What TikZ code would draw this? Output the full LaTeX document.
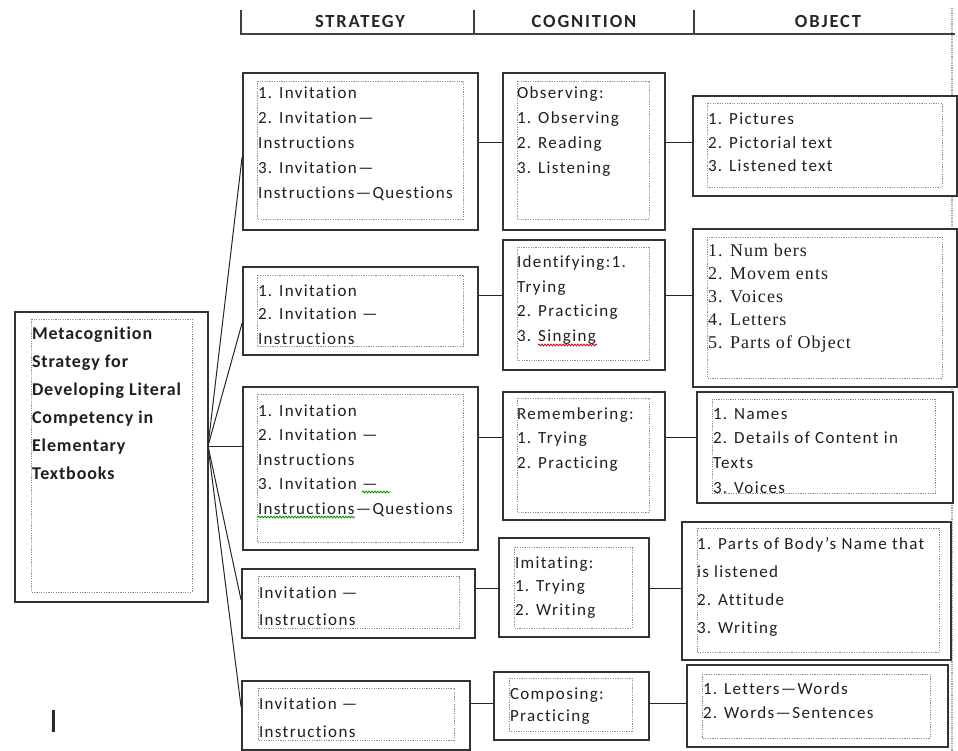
\documentclass[tikz,border=0pt]{standalone}
\usepackage{fontspec}
\usetikzlibrary{decorations.pathmorphing}
\newfontfamily\bodyfont[LetterSpace=8,Ligatures=NoCommon]{Carlito}
\newfontfamily\rootfont[LetterSpace=5,Ligatures=NoCommon]{Carlito}
\newfontfamily\headfont[LetterSpace=10,Ligatures=NoCommon]{Carlito}
\newfontfamily\timesfont[LetterSpace=6,Ligatures=NoCommon]{Liberation Serif}
\newfontfamily\barfont{Liberation Sans}
\tikzset{
  outerbox/.style={draw=black!80, line width=1.8pt, fill=white, inner sep=0pt, rectangle},
  innerbox/.style={draw=black!45, line width=0.9pt, dash pattern=on 1.2pt off 1.2pt},
  link/.style={draw=black!85, line width=1pt},
  hline/.style={draw=black!75, line width=1.6pt},
  vdash/.style={draw=black!35, line width=1.6pt, dash pattern=on 1.2pt off 1pt},
  txt/.style={inner sep=0pt, outer sep=0pt, text=black!88, anchor=base west},
  head/.style={inner sep=0pt, text=black!85, font={\headfont\bfseries\fontsize{18.5}{20}\selectfont}},
  spellred/.style={draw=red!85!black, line width=0.8pt, decorate, decoration={snake, segment length=3pt, amplitude=0.9pt}},
  spellgreen/.style={draw=green!55!black, line width=0.8pt, decorate, decoration={snake, segment length=3pt, amplitude=0.9pt}}
}
\newcommand\obox[5]{\node[outerbox, minimum width={(#4)-(#2)}, minimum height={(#5)-(#3)}] (#1) at ({((#2)+(#4))/2},{((#3)+(#5))/2}) {};}
\newcommand\ibox[4]{\draw[innerbox] (#1,#2) rectangle (#3,#4);}
\newcommand\tbox[7]{\node[txt] (#1) at (#2,#3) {#6\fontsize{#4}{#5}\selectfont\begin{tabular}[t]{@{}l@{}}#7\end{tabular}};}
\begin{document}
\begin{tikzpicture}[x=1pt,y=-1pt]
\useasboundingbox (0,0) rectangle (958,751);
% right dotted rule
\draw[vdash] (952,8) -- (952,751);
% header
\draw[hline] (241,10) -- (241,34) -- (955,34);
\draw[hline] (474,10) -- (474,34);
\draw[hline] (694,10) -- (694,34);
\node[head] (hS) at (360,22) {STRATEGY};
\node[head] (hC) at (584,22) {COGNITION};
\node[head] (hO) at (828,22) {OBJECT};
% root
\obox{R}{15}{312}{208}{602}
\ibox{31}{319}{192}{592}
\tbox{tR}{32}{339}{18}{28}{\rootfont\bfseries}{Metacognition\\Strategy for\\Developing Literal\\Competency in\\Elementary\\Textbooks}
% row 1
\obox{S1}{243}{73}{478}{230}
\ibox{257}{81}{463}{219}
\tbox{tS1}{258}{99}{17}{24.8}{\bodyfont}{1. Invitation\\2. Invitation—\\Instructions\\3. Invitation—\\Instructions—Questions}
\obox{C1}{503}{73}{665}{230}
\ibox{517}{81}{649}{219}
\tbox{tC1}{517}{99}{17}{24.7}{\bodyfont}{Observing:\\1. Observing\\2. Reading\\3. Listening}
\obox{O1}{693}{96}{957}{196}
\ibox{707}{103}{942}{187}
\tbox{tO1}{708}{125}{17}{23.5}{\bodyfont}{1. Pictures\\2. Pictorial text\\3. Listened text}
% row 2
\obox{S2}{243}{267}{478}{355}
\ibox{257}{275}{463}{346}
\tbox{tS2}{258}{296}{17}{24}{\bodyfont}{1. Invitation\\2. Invitation —\\Instructions}
\obox{C2}{503}{240}{665}{370}
\ibox{517}{247}{649}{360}
\tbox{tC2}{517}{268}{17}{24.5}{\bodyfont}{Identifying:1.\\Trying\\2. Practicing\\3. Singing}
\obox{O2}{693}{229}{957}{387}
\ibox{707}{237}{942}{378}
\tbox{tO2}{708}{257}{18}{23}{\timesfont}{1. Num bers\\2. Movem ents\\3. Voices\\4. Letters\\5. Parts of Object}
% row 3
\obox{S3}{243}{387}{478}{550}
\ibox{257}{394}{463}{542}
\tbox{tS3}{258}{416}{17}{24.5}{\bodyfont}{1. Invitation\\2. Invitation —\\Instructions\\3. Invitation —\\Instructions—Questions}
\obox{C3}{503}{392}{665}{520}
\ibox{517}{398}{649}{512}
\tbox{tC3}{517}{419}{17}{24.5}{\bodyfont}{Remembering:\\1. Trying\\2. Practicing}
\obox{O3}{697}{392}{953}{503}
\ibox{712}{399}{935}{493}
\tbox{tO3}{713}{419}{17}{24.7}{\bodyfont}{1. Names\\2. Details of Content in\\Texts\\3. Voices}
% row 4
\obox{S4}{242}{569}{475}{638}
\ibox{258}{576}{459}{628}
\tbox{tS4}{259}{598}{17}{27}{\bodyfont}{Invitation —\\Instructions}
\obox{C4}{499}{538}{649}{637}
\ibox{514}{547}{632}{628}
\tbox{tC4}{515}{568}{17}{23.5}{\bodyfont}{Imitating:\\1. Trying\\2. Writing}
\obox{O4}{682}{522}{951}{660}
\ibox{697}{528}{939}{652}
\tbox{tO4}{697}{549}{17}{28}{\bodyfont}{1. Parts of Body’s Name that\\is listened\\2. Attitude\\3. Writing}
% row 5
\obox{S5}{242}{681}{470}{750}
\ibox{258}{688}{454}{740}
\tbox{tS5}{259}{709}{17}{28}{\bodyfont}{Invitation —\\Instructions}
\obox{C5}{494}{672}{649}{740}
\ibox{509}{678}{632}{731}
\tbox{tC5}{510}{699}{17}{22}{\bodyfont}{Composing:\\Practicing}
\obox{O5}{687}{665}{948}{747}
\ibox{702}{674}{930}{738}
\tbox{tO5}{703}{694}{17}{24}{\bodyfont}{1. Letters—Words\\2. Words—Sentences}
% spell-check marks
\draw[spellred] (538,345) -- (597,345);
\draw[spellgreen] (362,492) -- (390,492);
\draw[spellgreen] (258,517) -- (355,517);
% root fan
\coordinate (J) at (208,446);
\draw[link] (J) -- (S1.west |- 0,157);
\draw[link] (J) -- (S2.west |- 0,323);
\draw[link] (J) -- (S3.west |- 0,446);
\draw[link] (J) -- (S4.west |- 0,600);
\draw[link] (J) -- (S5.west |- 0,707);
% row links
\draw[link] (S1.east |- 0,143) -- (C1.west |- 0,143);
\draw[link] (C1.east |- 0,143) -- (O1.west |- 0,143);
\draw[link] (S2.east |- 0,295) -- (C2.west |- 0,295);
\draw[link] (C2.east |- 0,295) -- (O2.west |- 0,295);
\draw[link] (S3.east |- 0,437) -- (C3.west |- 0,437);
\draw[link] (C3.east |- 0,437) -- (O3.west |- 0,437);
\draw[link] (S4.east |- 0,588) -- (C4.west |- 0,588);
\draw[link] (C4.east |- 0,588) -- (O4.west |- 0,588);
\draw[link] (S5.east |- 0,703) -- (C5.west |- 0,703);
\draw[link] (C5.east |- 0,703) -- (O5.west |- 0,703);
% stray bar
\node[txt, text=black!85] (bar) at (49,732) {\barfont\fontsize{32}{34}\selectfont I};
\end{tikzpicture}
\end{document}
